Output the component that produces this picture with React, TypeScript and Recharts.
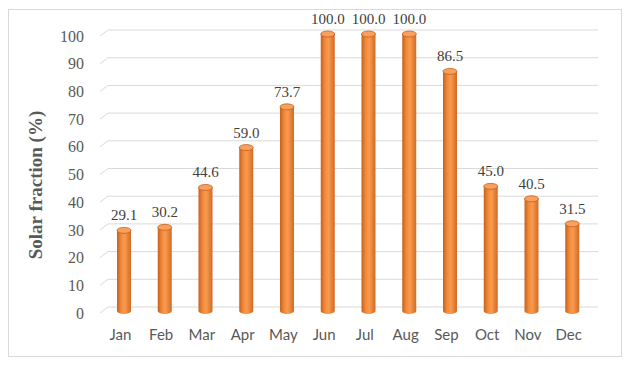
import { Bar, BarChart, CartesianGrid, LabelList, XAxis, YAxis } from 'recharts';

const months = ['Jan', 'Feb', 'Mar', 'Apr', 'May', 'Jun', 'Jul', 'Aug', 'Sep', 'Oct', 'Nov', 'Dec'];
const solarFraction = [29.1, 30.2, 44.6, 59.0, 73.7, 100.0, 100.0, 100.0, 86.5, 45.0, 40.5, 31.5];
const yTicks = [0, 10, 20, 30, 40, 50, 60, 70, 80, 90, 100];

const data = months.map((month, i) => ({ month, value: solarFraction[i] }));

const GRID = '#d9d9d9';
const SERIF = '"Liberation Serif", "Times New Roman", serif';

const CylinderBar = (props: any) => {
  const { x, y, width, height, index } = props;
  if (height <= 0) return null;
  const rx = width / 2;
  const ry = 3;
  const cx = x + rx;
  const id = `cyl-${index}`;
  const body = `M${x},${y} L${x},${y + height} A${rx},${ry} 0 0 0 ${x + width},${y + height} L${x + width},${y} Z`;
  return (
    <g>
      <defs>
        <linearGradient id={id} x1="0" y1="0" x2="1" y2="0">
          <stop offset="0%" stopColor="#c4611c" />
          <stop offset="30%" stopColor="#f28a3a" />
          <stop offset="55%" stopColor="#f99a4e" />
          <stop offset="100%" stopColor="#d06b25" />
        </linearGradient>
      </defs>
      <path d={body} fill={`url(#${id})`} />
      <ellipse cx={cx} cy={y} rx={rx} ry={ry} fill="#f7a060" stroke="#c4611c" strokeWidth={0.8} />
    </g>
  );
};

const GridLine = (props: any) => {
  const { x1, x2, y1, key } = props;
  const back = y1 - 4;
  return (
    <path
      key={key}
      d={`M${x1 - 4},${y1 + 2} L${x1 + 4},${back} L${x2 + 5},${back}`}
      fill="none"
      stroke={GRID}
      strokeWidth={1}
    />
  );
};

const MonthTick = (props: any) => {
  const { x, y, payload } = props;
  return (
    <text x={x - 4} y={y + 24} textAnchor="middle" dy="0.355em" fill="#595959" fontSize={15} fontFamily="Lato, sans-serif">
      {payload.value}
    </text>
  );
};

const ValueTick = (props: any) => {
  const { y, payload } = props;
  return (
    <text x={84} y={y + 2} textAnchor="end" dy="0.355em" fill="#595959" fontSize={16} fontFamily={SERIF}>
      {payload.value}
    </text>
  );
};

const App = () => {
  return (
    <div style={{ position: 'relative', width: 631, height: 370, background: '#fff' }}>
      <style>{'body{margin:0}'}</style>
      <svg width={631} height={370} style={{ position: 'absolute', left: 0, top: 0 }}>
        <rect x={8.5} y={9.5} width={613} height={347} fill="#fff" stroke={GRID} strokeWidth={1} />
        <text
          transform="translate(35,185) rotate(-90)"
          textAnchor="middle"
          dominantBaseline="central"
          fill="#595959"
          fontSize={19}
          fontWeight="bold"
          fontFamily={SERIF}
        >
          Solar fraction (%)
        </text>
      </svg>
      <div style={{ position: 'absolute', left: 0, top: 0 }}>
        <BarChart width={631} height={370} data={data} margin={{ top: 34, right: 38, bottom: 29, left: 0 }}>
          <CartesianGrid vertical={false} horizontal={GridLine} />
          <XAxis
            dataKey="month"
            height={30}
            axisLine={false}
            tickLine={false}
            tickSize={0}
            tickMargin={0}
            tick={<MonthTick />}
            interval={0}
          />
          <YAxis
            width={104}
            domain={[0, 100]}
            ticks={yTicks}
            axisLine={false}
            tickLine={false}
            tick={<ValueTick />}
            interval={0}
          />
          <Bar dataKey="value" barSize={14} shape={<CylinderBar />} isAnimationActive={false}>
            <LabelList
              dataKey="value"
              position="top"
              offset={10}
              formatter={(v: any) => Number(v).toFixed(1)}
              fill="#404040"
              fontSize={15}
              fontFamily={SERIF}
            />
          </Bar>
        </BarChart>
      </div>
    </div>
  );
};

export default App;
